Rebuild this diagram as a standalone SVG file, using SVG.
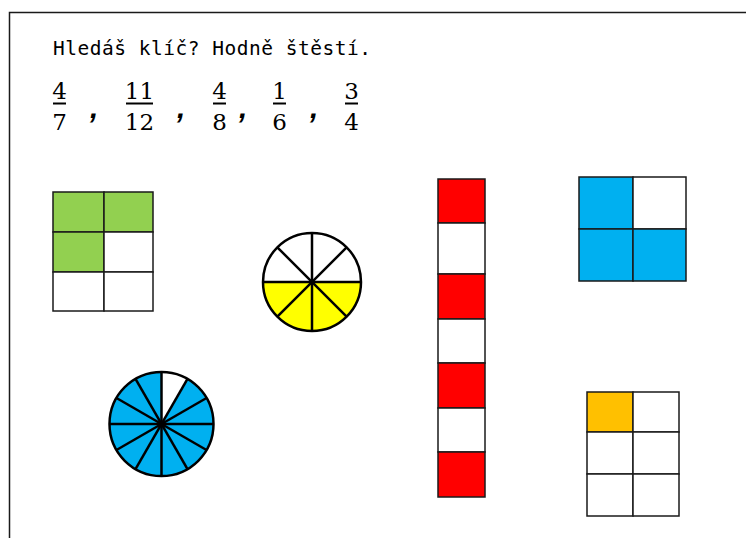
<svg xmlns="http://www.w3.org/2000/svg" width="746" height="538" viewBox="0 0 746 538">
<style>
.cell{stroke:#1a1a1a;stroke-width:1.5}
.ln{stroke:#000;stroke-width:2.5;fill:none}
.num{font-family:"DejaVu Serif","Liberation Serif",serif;font-size:23px;fill:#000;text-anchor:middle}
.bar{stroke:#000;stroke-width:2}
.cm{font-family:"Liberation Sans","DejaVu Sans",sans-serif;font-size:30px;font-weight:bold;font-style:italic;fill:#000}
</style>
<rect width="746" height="538" fill="#fff"/>
<g id="frame"><path d="M9.5,538 V12.5 H746" fill="none" stroke="#1a1a1a" stroke-width="1.5"/></g>
<g id="title"><text x="53" y="55" font-family="'DejaVu Sans Mono','Liberation Mono',monospace" font-size="19.5" textLength="318" lengthAdjust="spacing">Hledáš klíč? Hodně štěstí.</text></g>
<g id="fractions">
<text class="num" x="59.5" y="99">4</text><line class="bar" x1="53" y1="103.5" x2="66" y2="103.5"/><text class="num" x="59.5" y="130">7</text>
<text class="cm" x="90" y="118">,</text>
<text class="num" x="139.5" y="99">11</text><line class="bar" x1="126" y1="103.5" x2="153" y2="103.5"/><text class="num" x="139.5" y="130">12</text>
<text class="cm" x="177" y="118">,</text>
<text class="num" x="219.5" y="99">4</text><line class="bar" x1="213" y1="103.5" x2="226" y2="103.5"/><text class="num" x="219.5" y="130">8</text>
<text class="cm" x="239" y="118">,</text>
<text class="num" x="279.5" y="99">1</text><line class="bar" x1="273" y1="103.5" x2="286" y2="103.5"/><text class="num" x="279.5" y="130">6</text>
<text class="cm" x="310" y="118">,</text>
<text class="num" x="351.5" y="99">3</text><line class="bar" x1="345" y1="103.5" x2="358" y2="103.5"/><text class="num" x="351.5" y="130">4</text>
</g>
<g id="green-grid">
<rect class="cell" x="53" y="192" width="51" height="40" fill="#92D050"/>
<rect class="cell" x="104" y="192" width="49" height="40" fill="#92D050"/>
<rect class="cell" x="53" y="232" width="51" height="40" fill="#92D050"/>
<rect class="cell" x="104" y="232" width="49" height="40" fill="#fff"/>
<rect class="cell" x="53" y="272" width="51" height="39" fill="#fff"/>
<rect class="cell" x="104" y="272" width="49" height="39" fill="#fff"/>
</g>
<g id="yellow-circle">
<circle cx="312" cy="282" r="49" fill="#fff"/>
<path d="M263,282 A49,49 0 0 0 361,282 Z" fill="#FFFF00"/>
<circle class="ln" cx="312" cy="282" r="49"/>
<line class="ln" x1="263" y1="282" x2="361" y2="282"/>
<line class="ln" x1="312" y1="233" x2="312" y2="331"/>
<line class="ln" x1="277.35" y1="247.35" x2="346.65" y2="316.65"/>
<line class="ln" x1="346.65" y1="247.35" x2="277.35" y2="316.65"/>
</g>
<g id="blue-circle">
<circle cx="161.5" cy="424" r="52" fill="#00B0F0"/>
<path d="M161.5,424 L161.5,372 A52,52 0 0 1 187.5,378.97 Z" fill="#fff"/>
<circle class="ln" cx="161.5" cy="424" r="52"/>
<line class="ln" x1="109.5" y1="424" x2="213.5" y2="424"/>
<line class="ln" x1="161.5" y1="372" x2="161.5" y2="476"/>
<line class="ln" x1="206.53" y1="450" x2="116.47" y2="398"/>
<line class="ln" x1="187.5" y1="469.03" x2="135.5" y2="378.97"/>
<line class="ln" x1="135.5" y1="469.03" x2="187.5" y2="378.97"/>
<line class="ln" x1="116.47" y1="450" x2="206.53" y2="398"/>
</g>
<g id="red-strip">
<rect class="cell" x="438" y="179" width="47" height="44" fill="#FF0000"/>
<rect class="cell" x="438" y="223" width="47" height="51" fill="#fff"/>
<rect class="cell" x="438" y="274" width="47" height="45" fill="#FF0000"/>
<rect class="cell" x="438" y="319" width="47" height="44" fill="#fff"/>
<rect class="cell" x="438" y="363" width="47" height="45" fill="#FF0000"/>
<rect class="cell" x="438" y="408" width="47" height="44" fill="#fff"/>
<rect class="cell" x="438" y="452" width="47" height="45" fill="#FF0000"/>
</g>
<g id="blue-grid">
<rect class="cell" x="579" y="177" width="54" height="52" fill="#00B0F0"/>
<rect class="cell" x="633" y="177" width="53" height="52" fill="#fff"/>
<rect class="cell" x="579" y="229" width="54" height="52" fill="#00B0F0"/>
<rect class="cell" x="633" y="229" width="53" height="52" fill="#00B0F0"/>
</g>
<g id="orange-grid">
<rect class="cell" x="587" y="392" width="46" height="40" fill="#FFC000"/>
<rect class="cell" x="633" y="392" width="46" height="40" fill="#fff"/>
<rect class="cell" x="587" y="432" width="46" height="42" fill="#fff"/>
<rect class="cell" x="633" y="432" width="46" height="42" fill="#fff"/>
<rect class="cell" x="587" y="474" width="46" height="42" fill="#fff"/>
<rect class="cell" x="633" y="474" width="46" height="42" fill="#fff"/>
</g>
</svg>
